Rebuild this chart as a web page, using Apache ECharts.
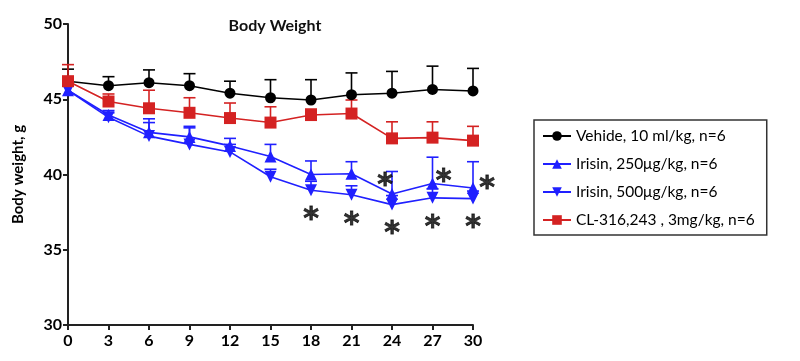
<!DOCTYPE html>
<html><head><meta charset="utf-8">
<script src="https://cdn.jsdelivr.net/npm/echarts@6/dist/echarts.min.js"></script>
<style>html,body{margin:0;padding:0;background:#fff}#c{width:800px;height:361px}</style>
</head><body><div id="c"></div>
<script>
const days = [0,3,6,9,12,15,18,21,24,27,30];
const vehicle = [46.2,45.9,46.1,45.9,45.4,45.1,44.95,45.3,45.4,45.65,45.55];
const vehicleErr = [0.8,0.6,0.85,0.8,0.8,1.2,1.35,1.45,1.45,1.55,1.5];
const irisin250 = [45.6,43.95,42.8,42.5,41.9,41.2,40.0,40.05,38.7,39.4,39.1];
const irisin250Err = [0.6,0.3,0.9,0.7,0.5,0.8,0.9,0.8,1.5,1.75,1.75];
const irisin500 = [45.6,43.8,42.55,42.0,41.5,39.85,38.95,38.65,38.0,38.45,38.4];
const irisin500Err = [0.5,0.3,0.9,1.1,0.5,0.5,0.6,0.6,0.6,0.6,0.5];
const cl316 = [46.2,44.85,44.4,44.1,43.75,43.45,43.95,44.05,42.4,42.45,42.25];
const cl316Err = [1.1,0.5,1.2,1.0,1.0,1.05,0.4,0.9,1.1,1.05,0.95];
const sig250Days = [24,27,30];
const sig500Days = [18,21,24,27,30];
const names = ['Vehide, 10 ml/kg, n=6','Irisin, 250μg/kg, n=6','Irisin, 500μg/kg, n=6','CL-316,243 , 3mg/kg, n=6'];
const yTicks = [30,35,40,45,50];

const BLACK='#000000', BLUE='#2020ff', RED='#d42222';
const downTri = 'path://M0,0 L10,0 L5,9 Z';

function errSeries(vals, errs, color){
  return {
    type:'custom', silent:true, z:1,
    data: days.map((d,i)=>[d, vals[i], vals[i]+errs[i]]),
    renderItem:function(params, api){
      const p0 = api.coord([api.value(0), api.value(1)]);
      const p1 = api.coord([api.value(0), api.value(2)]);
      const w = 6;
      return {type:'group', children:[
        {type:'line', shape:{x1:p0[0],y1:p0[1],x2:p1[0],y2:p1[1]}, style:{stroke:color,lineWidth:1.6}},
        {type:'line', shape:{x1:p1[0]-w,y1:p1[1],x2:p1[0]+w,y2:p1[1]}, style:{stroke:color,lineWidth:1.6}}
      ]};
    }
  };
}
function lineSeries(name, vals, color, symbol, size){
  return {name:name, type:'line', z:3, data: days.map((d,i)=>[d, vals[i]]),
    symbol:symbol, symbolSize:size, showSymbol:true,
    lineStyle:{color:color,width:1.6}, itemStyle:{color:color}};
}
const starLabel = {show:true, formatter:'*', position:'inside', color:'#000',
  fontFamily:'DejaVu Sans', fontWeight:'bold', fontSize:30,
  textBorderColor:'#000', textBorderWidth:0.8};
function sigSeries(sigDays, vals, offsets){
  return {type:'scatter', z:5, silent:true, symbolSize:1, itemStyle:{color:'rgba(0,0,0,0)'},
    data: sigDays.map((d,k)=>({value:[d, vals[days.indexOf(d)]], label:{offset:offsets[k]}})),
    label: starLabel
  };
}
const chart = echarts.init(document.getElementById('c'), null, {renderer:'canvas'});
chart.setOption({
  animation:false,
  title:{text:'Body Weight', left:270, textAlign:'center', top:13,
    textStyle:{fontFamily:'Lato', fontWeight:'bold', fontSize:16, color:'#111'}},
  grid:{left:68, right:327, top:24, bottom:36},
  legend:{
    orient:'vertical', left:534, top:120, width:241,
    data:names, borderColor:'#333', borderWidth:1.5, borderRadius:0,
    padding:[8,12,7,8], itemGap:12, itemWidth:28, itemHeight:12,
    textStyle:{fontFamily:'Lato', fontSize:15.5, color:'#000'}
  },
  xAxis:{type:'value', min:0, max:30, interval:3,
    axisLine:{lineStyle:{color:'#222', width:2}},
    axisTick:{length:5, lineStyle:{color:'#222', width:2}},
    splitLine:{show:false},
    axisLabel:{fontFamily:'Lato', fontWeight:'bold', fontSize:16, color:'#000', margin:8}},
  yAxis:{type:'value', min:30, max:50, interval:5,
    name:'Body weight, g', nameLocation:'middle', nameGap:42,
    nameTextStyle:{fontFamily:'Lato', fontWeight:'bold', fontSize:15, color:'#000'},
    axisLine:{show:true, lineStyle:{color:'#222', width:2}},
    axisTick:{show:true, length:5, lineStyle:{color:'#222', width:2}},
    splitLine:{show:false},
    axisLabel:{fontFamily:'Lato', fontWeight:'bold', fontSize:16, color:'#000', margin:6,
      formatter:function(v){return yTicks.indexOf(v)>=0 ? String(v) : '';}}},
  series:[
    errSeries(vehicle, vehicleErr, BLACK),
    errSeries(irisin250, irisin250Err, BLUE),
    errSeries(irisin500, irisin500Err, BLUE),
    errSeries(cl316, cl316Err, RED),
    lineSeries(names[0], vehicle, BLACK, 'circle', 11),
    lineSeries(names[1], irisin250, BLUE, 'triangle', 12),
    lineSeries(names[2], irisin500, BLUE, downTri, 12),
    lineSeries(names[3], cl316, RED, 'rect', 12),
    sigSeries(sig250Days, irisin250, [[-7,-8],[11,-1],[14,1]]),
    sigSeries(sig500Days, irisin500, [[0,30],[0,30],[0,30],[0,30],[0,30]])
  ]
});
</script></body></html>
